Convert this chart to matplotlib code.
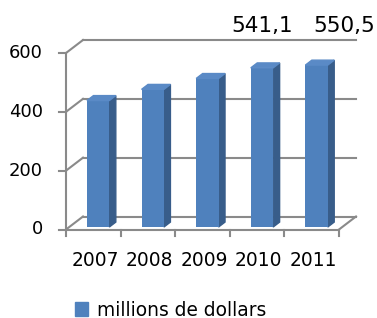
import numpy as np
import matplotlib
matplotlib.use("Agg")
import matplotlib.pyplot as plt
from matplotlib.patches import Polygon, Patch

## data
years = ["2007", "2008", "2009", "2010", "2011"]
values = [430, 468, 505, 541.1, 550.5]
yticks = [0, 200, 400, 600]
labelled = [3, 4]          # bars that carry a data label
series_name = "millions de dollars"

## layout (pixels of a 377x318 figure)
W, H = 377, 318
x_axis_px = 66.0           # front y axis
cat_px = 54.6              # width of one category
y0_px = 229.5              # value 0 on the front axis (from top)
ppu = 176.5 / 600          # pixels per value unit
DX = 17 / cat_px           # depth of the wall, in data units
DY = 13 / ppu

front_c = '#4F81BD'
side_c = '#385D8A'
top_c = '#5A8AC6'
grid_c = '#8A8A8A'

fig = plt.figure(figsize=(W / 100, H / 100), dpi=100)
ax = fig.add_axes([0, 0, 1, 1])
ax.set_xlim(-0.5 - x_axis_px / cat_px, -0.5 + (W - x_axis_px) / cat_px)
ax.set_ylim(-(H - y0_px) / ppu, y0_px / ppu)
ax.axis('off')

n = len(years)
xl, xr = -0.5, n - 0.5
lw = 1.5

# back wall gridlines + left wall diagonals
for v in yticks:
    ax.plot([xl + DX, xr + DX], [v + DY, v + DY], color=grid_c, lw=lw, zorder=1)
    ax.plot([xl, xl + DX], [v, v + DY], color=grid_c, lw=lw, zorder=1)
# floor
ax.plot([xl, xr], [0, 0], color=grid_c, lw=lw, zorder=1)
ax.plot([xr, xr + DX], [0, DY], color=grid_c, lw=lw, zorder=1)
# front value axis
ax.plot([xl, xl], [0, yticks[-1]], color=grid_c, lw=lw, zorder=1)
tick_x = 7 / cat_px
for v in yticks:
    ax.plot([xl - tick_x, xl], [v, v], color=grid_c, lw=lw, zorder=1)
    ax.text(xl - 23 / cat_px, v, str(v), ha='right', va='center', fontsize=13)
tick_y = 6 / ppu
for k in range(n + 1):
    ax.plot([k - 0.5, k - 0.5], [0, -tick_y], color=grid_c, lw=lw, zorder=1)
for i, yr in enumerate(years):
    ax.text(i + 0.03, -30.5 / ppu, yr, ha='center', va='center', fontsize=13.4)

# 3d-looking bars
w = 0.41
f, b = 0.19, 0.38
x = np.arange(n)
ax.bar(x + f * DX + 0.03, values, width=w, bottom=f * DY, color=front_c, zorder=3)
for i, v in enumerate(values):
    l = i - w / 2 + f * DX + 0.03
    r = i + w / 2 + f * DX + 0.03
    side = [(r, f * DY), (r + b * DX, (f + b) * DY),
            (r + b * DX, v + (f + b) * DY), (r, v + f * DY)]
    top = [(l, v + f * DY), (r, v + f * DY),
           (r + b * DX, v + (f + b) * DY), (l + b * DX, v + (f + b) * DY)]
    ax.add_patch(Polygon(side, closed=True, color=side_c, zorder=2))
    ax.add_patch(Polygon(top, closed=True, color=top_c, zorder=4))

# data labels (placed above the chart as in the original)
label_dx = [0.09, 0.59]
for k, i in enumerate(labelled):
    txt = f"{values[i]:.1f}".replace('.', ',')
    ax.text(i + label_dx[k], (y0_px - 26.5) / ppu, txt, ha='center', va='center', fontsize=15.5)

ax.legend(handles=[Patch(color=front_c, label=series_name)], loc='center left',
          bbox_to_anchor=(75 / W, 1 - 310 / H), bbox_transform=fig.transFigure,
          frameon=False, fontsize=13.4, handlelength=0.7, handleheight=0.7,
          handletextpad=0.48, borderpad=0, borderaxespad=0)

fig.savefig("out.png", dpi=100)
